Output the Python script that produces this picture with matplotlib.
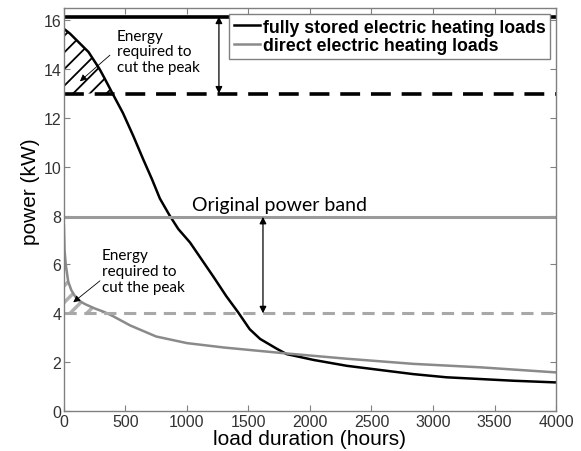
import numpy as np
import matplotlib
matplotlib.use("Agg")
import matplotlib.pyplot as plt

plt.rcParams['font.family'] = ['Liberation Sans', 'DejaVu Sans']

# load duration curves (hours, kW)
stored_hours = [0, 50, 100, 150, 200, 290, 333, 390, 480, 565, 645, 715, 780, 860,
                930, 1025, 1120, 1215, 1320, 1415, 1510, 1595, 1730, 1810, 2030,
                2300, 2570, 2840, 3110, 3380, 3650, 4000]
stored_kw = [15.65, 15.45, 15.2, 14.95, 14.7, 14.0, 13.6, 13.05, 12.2, 11.25, 10.3,
             9.5, 8.7, 8.0, 7.45, 6.9, 6.2, 5.5, 4.7, 4.05, 3.35, 2.95, 2.55, 2.33,
             2.09, 1.85, 1.68, 1.51, 1.38, 1.31, 1.24, 1.17]

direct_hours = [0, 5, 15, 35, 60, 90, 130, 170, 250, 330, 400, 540, 750, 1000, 1300,
                1570, 1800, 2300, 2840, 3380, 4000]
direct_kw = [7.6, 6.6, 6.0, 5.3, 4.95, 4.7, 4.5, 4.38, 4.2, 4.05, 3.88, 3.5, 3.05,
             2.78, 2.6, 2.47, 2.36, 2.14, 1.93, 1.79, 1.58]

stored_peak = 16.15
stored_cut = 13.0
direct_peak = 7.95
direct_cut = 4.0

black = '#000000'
grey = '#9a9a9a'

fig = plt.figure(figsize=(5.81, 4.52), dpi=100)
ax = fig.add_axes([0.110, 0.0885, 0.847, 0.8915])

sh = np.array(stored_hours, dtype=float)
sk = np.array(stored_kw)
dh = np.array(direct_hours, dtype=float)
dk = np.array(direct_kw)

# hatched energy areas above the cut levels
f1 = ax.fill_between(sh, sk, stored_cut, where=sk >= stored_cut, interpolate=True,
                     facecolor='none', edgecolor=black, hatch='//', linewidth=0)
f2 = ax.fill_between(dh, dk, direct_cut, where=dk >= direct_cut, interpolate=True,
                     facecolor='none', edgecolor='#b0b0b0', hatch='//', linewidth=0)
if hasattr(f1, 'set_hatch_linewidth'):
    f1.set_hatch_linewidth(1.3)
    f2.set_hatch_linewidth(2.5)

ax.plot(sh, sk, color=black, lw=1.8, label='fully stored electric heating loads')
ax.plot(dh, dk, color='#8a8a8a', lw=1.8, label='direct electric heating loads')

ax.axhline(stored_peak, color=black, lw=2.6)
ax.axhline(stored_cut, color=black, lw=2.6, dashes=(5.5, 3))
ax.axhline(direct_peak, color=grey, lw=2.2)
ax.axhline(direct_cut, color='#a8a8a8', lw=2.2, dashes=(4, 2.5))

# double arrows showing the cut
ax.annotate('', xy=(1260, stored_cut), xytext=(1260, stored_peak),
            arrowprops=dict(arrowstyle='<|-|>', color=black, lw=0.9,
                            mutation_scale=10, shrinkA=0, shrinkB=0))
ax.annotate('', xy=(1618, direct_cut), xytext=(1618, direct_peak),
            arrowprops=dict(arrowstyle='<|-|>', color=black, lw=0.9,
                            mutation_scale=10, shrinkA=0, shrinkB=0))

note = 'Energy\nrequired to\ncut the peak'
ax.annotate('', xy=(130, 13.5), xytext=(374, 14.57),
            arrowprops=dict(arrowstyle='-|>', color=black, lw=0.6,
                            mutation_scale=10, shrinkA=0, shrinkB=0))
ax.text(431, 14.73, note, family=['Lato', 'DejaVu Sans'], fontsize=11,
        va='center', ha='left', linespacing=1.15)
ax.annotate('', xy=(76, 4.45), xytext=(293, 5.33),
            arrowprops=dict(arrowstyle='-|>', color=black, lw=0.6,
                            mutation_scale=10, shrinkA=0, shrinkB=0))
ax.text(309, 5.73, note, family=['Lato', 'DejaVu Sans'], fontsize=11,
        va='center', ha='left', linespacing=1.15)

ax.text(1040, 8.1, 'Original power band', family=['Lato', 'DejaVu Sans'],
        fontsize=14, va='bottom', ha='left')

ax.set_xlim(0, 4000)
ax.set_ylim(0, 16.5)
ax.set_xticks(np.arange(0, 4001, 500))
ax.set_yticks(np.arange(0, 17, 2))
ax.tick_params(direction='in', top=True, right=True, length=4, width=0.8,
               color='#808080', labelsize=11.5, labelcolor='#333333', pad=2)
for s in ax.spines.values():
    s.set_color('#808080')
    s.set_linewidth(1.0)

ax.set_xlabel('load duration (hours)', fontsize=15, labelpad=0)
ax.set_ylabel('power (kW)', fontsize=15, labelpad=2, y=0.546)

leg = ax.legend(loc='upper right', bbox_to_anchor=(0.988, 0.985), fancybox=False,
                framealpha=1, edgecolor='#808080', handlelength=1.5, handletextpad=0.15,
                borderaxespad=0, borderpad=0.25, labelspacing=0.1,
                prop={'weight': 'bold', 'size': 12.8})
leg.get_frame().set_linewidth(1.0)

fig.savefig('out.png', dpi=100)
